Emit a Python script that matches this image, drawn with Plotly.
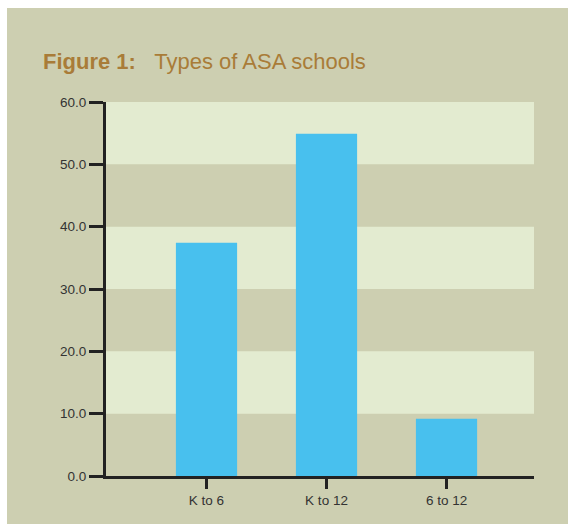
import plotly.graph_objects as go

categories = ["K to 6", "K to 12", "6 to 12"]
values = [37.4, 54.9, 9.2]
y_ticks = [0, 10, 20, 30, 40, 50, 60]
light_bands = [(10, 20), (30, 40), (50, 60)]

BG = "#CDCFB1"
LIGHT = "#E3EBD0"
BAR = "#48C0EE"
AXIS = "#222222"
TITLE = "#A97C38"

W, H = 568, 524
L, R, T, B = 106, 34, 102, 48
pw, ph = W - L - R, H - T - B

def px_x(p):
    return (p - L) / pw

def px_y(p):
    return (H - B - p) / ph

fig = go.Figure()
fig.add_trace(go.Bar(
    x=categories, y=values, marker=dict(color=BAR, line=dict(width=0)),
    width=0.51, hoverinfo="x+y",
))

shapes = [dict(type="rect", xref="paper", yref="paper",
               x0=px_x(7), x1=px_x(W + 2), y0=px_y(H + 2), y1=px_y(8),
               fillcolor=BG, line=dict(width=0), layer="below")]
for lo, hi in light_bands:
    shapes.append(dict(type="rect", xref="paper", yref="y", x0=0, x1=1,
                       y0=lo, y1=hi, fillcolor=LIGHT, line=dict(width=0),
                       layer="below"))

fig.update_layout(
    width=W, height=H,
    margin=dict(l=L, r=R, t=T, b=B, pad=0),
    paper_bgcolor="white",
    plot_bgcolor="rgba(0,0,0,0)",
    showlegend=False,
    shapes=shapes,
    font=dict(family="Liberation Sans, Arial, sans-serif", color="#333333", size=13.5),
    xaxis=dict(
        range=[-0.8375, 2.729], showgrid=False, zeroline=False,
        showline=True, linecolor=AXIS, linewidth=3,
        ticks="outside", ticklen=10, tickwidth=3, tickcolor=AXIS,
        tickfont=dict(size=13.5, color="#333333"),
    ),
    yaxis=dict(
        range=[0, 60], tickvals=y_ticks, tickformat=".1f",
        showgrid=False, zeroline=False,
        showline=True, linecolor=AXIS, linewidth=3,
        ticks="outside", ticklen=14, tickwidth=3, tickcolor=AXIS,
        tickfont=dict(size=13.5, color="#333333"),
    ),
    annotations=[dict(
        xref="paper", yref="paper", x=px_x(41), y=px_y(61),
        xanchor="left", yanchor="middle", showarrow=False,
        text="<b>Figure 1:</b>\u00a0\u00a0\u00a0Types of ASA schools",
        font=dict(size=22, color=TITLE, family="Liberation Sans, Arial, sans-serif"),
    )],
)

fig.write_html("out.html")
